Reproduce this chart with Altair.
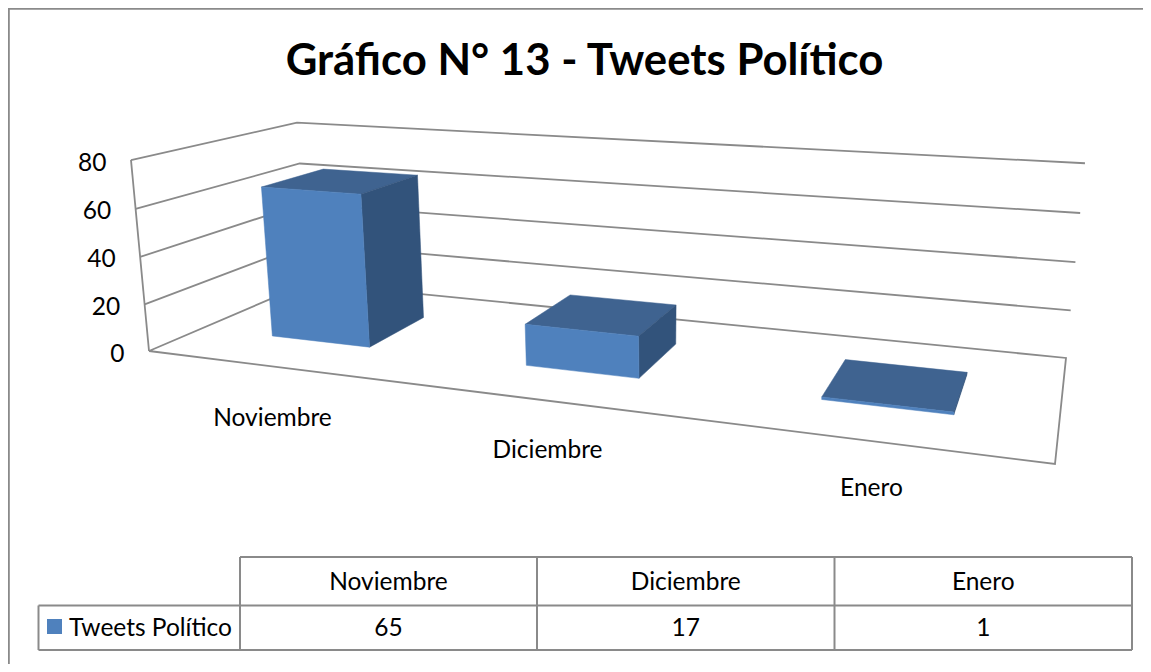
import altair as alt
import pandas as pd

# ---- values ----
categories = ["Noviembre", "Diciembre", "Enero"]
tweets = [65, 17, 1]
y_ticks = [0, 20, 40, 60, 80]
series_name = "Tweets Político"
title_text = "Gráfico N° 13 - Tweets Político"

W, H = 1135, 656
GREY = "#8A8A8A"
FONT = "Lato"
C_FRONT, C_TOP, C_SIDE = "#4F81BD", "#3F6390", "#32537B"

Y_MAX = 80
BAR_FRAC = 0.4    # bar width as a share of its category (gap 150 %)
DEPTH = (0.3, 0.7)


def project(u, v, w):
    """Perspective of the 3D plot box: u along categories, v depth, w height (0-1)."""
    den = -0.2181 * u + 0.1984 * v - 0.0289 * w + 1
    x = (675.9 * u + 220.1 * v - 21.8 * w + 149) / den + 9.5 * u * v * w
    y = (11.8 * u - 11.9 * v - 195.6 * w + 351) / den
    return x, y


# ---- frame of the 3D box ----
frame_lines = []
chrome_lines = []


def add_line(store, name, pts):
    for i, (x, y) in enumerate(pts):
        store.append({"id": name, "o": i, "x": x, "y": y})


for t in y_ticks:
    w = t / Y_MAX
    if t == 0:
        add_line(frame_lines, "floor", [project(0, 0, 0), project(1, 0, 0), project(1, 1, 0),
                                        project(0, 1, 0), project(0, 0, 0)])
    else:
        add_line(frame_lines, f"g{t}", [project(0, 0, w), project(0, 1, w), project(1, 1, w)])
add_line(frame_lines, "edge", [project(0, 0, 0), project(0, 0, 1)])

# ---- bars ----
faces = {"top": [], "side": [], "front": []}
n = len(categories)
for i, val in enumerate(tweets):
    u0 = (i + 0.5 - BAR_FRAC / 2) / n
    u1 = (i + 0.5 + BAR_FRAC / 2) / n
    v0, v1 = DEPTH
    w = val / Y_MAX
    shapes = {
        "top": [(u0, v0, w), (u1, v0, w), (u1, v1, w), (u0, v1, w)],
        "side": [(u1, v0, 0), (u1, v1, 0), (u1, v1, w), (u1, v0, w)],
        "front": [(u0, v0, 0), (u1, v0, 0), (u1, v0, w), (u0, v0, w)],
    }
    for face, corners in shapes.items():
        for k, c in enumerate(corners + corners[:1]):
            x, y = project(*c)
            faces[face].append({"id": f"{categories[i]}-{face}", "seq": i, "o": k, "x": x, "y": y})

# ---- table under the plot ----
table_x = [240, 537, 834.5, 1132]
table_left = 38.5
table_y = [557, 605.5, 650]
for k, ty in enumerate(table_y):
    add_line(chrome_lines, f"h{k}", [(table_x[0] if k == 0 else table_left, ty), (table_x[-1], ty)])
for k, tx in enumerate(table_x):
    add_line(chrome_lines, f"v{k}", [(tx, table_y[0]), (tx, table_y[-1])])
add_line(chrome_lines, "v-left", [(table_left, table_y[1]), (table_left, table_y[2])])

# ---- outer chart border ----
add_line(chrome_lines, "border", [(W + 8, 8.8), (8.8, 8.8), (8.8, H + 8)])

# ---- texts ----
texts = []
for t in y_ticks:
    x, y = project(0, 0, t / Y_MAX)
    texts.append({"t": str(t), "x": x - 24.5, "y": y + 3.5, "a": "right"})
for i, c in enumerate(categories):
    u = (i + 0.5) / n
    x, y = project(u, 0, 0)
    texts.append({"t": c, "x": x + 1, "y": y + 54.4 - 7.5 * u, "a": "center"})
for i, c in enumerate(categories):
    xm = (table_x[i] + table_x[i + 1]) / 2
    texts.append({"t": c, "x": xm, "y": 583, "a": "center"})
    texts.append({"t": str(tweets[i]), "x": xm, "y": 629, "a": "center"})
texts.append({"t": series_name, "x": 69, "y": 629, "a": "left"})

X = alt.X("x:Q", scale=alt.Scale(domain=[8, 8 + W], nice=False, zero=False), axis=None)
Y = alt.Y("y:Q", scale=alt.Scale(domain=[8, 8 + H], nice=False, zero=False, reverse=True), axis=None)

frame = alt.Chart(pd.DataFrame(frame_lines)).mark_line(
    color=GREY, strokeWidth=1.8, interpolate="linear"
).encode(x=X, y=Y, detail="id:N", order="o:Q")
chrome = alt.Chart(pd.DataFrame(chrome_lines)).mark_line(
    color=GREY, strokeWidth=2, interpolate="linear"
).encode(x=X, y=Y, detail="id:N", order="o:Q")

layers = [chrome, frame]
for seq in range(n):
    for face, col in (("top", C_TOP), ("side", C_SIDE), ("front", C_FRONT)):
        d = pd.DataFrame([r for r in faces[face] if r["seq"] == seq])
        layers.append(
            alt.Chart(d).mark_line(fill=col, stroke=col, strokeWidth=0.5, interpolate="linear")
            .encode(x=X, y=Y, detail="id:N", order="o:Q")
        )

for align in ("right", "center", "left"):
    d = pd.DataFrame([r for r in texts if r["a"] == align])
    layers.append(
        alt.Chart(d).mark_text(font=FONT, fontSize=24.5, color="#000000", align=align, baseline="middle")
        .encode(x=X, y=Y, text="t:N")
    )

legend_swatch = pd.DataFrame({"x": [47], "x2": [62], "y": [619], "y2": [634], "s": [series_name]})
layers.append(
    alt.Chart(legend_swatch).mark_rect(color=C_FRONT)
    .encode(x=X, x2="x2:Q", y=Y, y2="y2:Q")
)

title_df = pd.DataFrame({"t": [title_text], "x": [584.5], "y": [62]})
layers.append(
    alt.Chart(title_df).mark_text(font=FONT, fontWeight="bold", fontSize=43.7, color="#000000",
                                  align="center", baseline="middle")
    .encode(x=X, y=Y, text="t:N")
)

chart = alt.layer(*layers).properties(
    width=W, height=H, padding=0, background="#ffffff",
    autosize=alt.AutoSizeParams(type="none"),
).configure_view(stroke=None)

chart.save("out.html", embed_options={"renderer": "svg", "actions": False})
